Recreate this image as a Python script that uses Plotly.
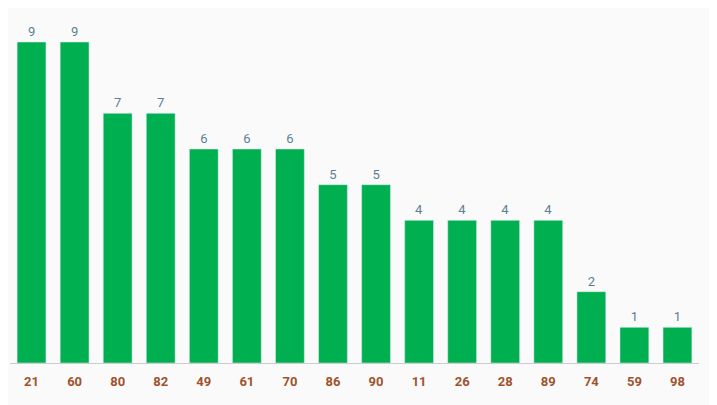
import plotly.graph_objects as go

categories = ["21","60","80","82","49","61","70","86","90","11","26","28","89","74","59","98"]
values = [9,9,7,7,6,6,6,5,5,4,4,4,4,2,1,1]

fig = go.Figure(go.Bar(
    x=categories, y=values, marker_color="#00b050",
    text=values, textposition="outside", cliponaxis=False,
    textfont=dict(color="#5b7f95", size=13, family="Roboto"),
))
fig.update_layout(
    width=717, height=405, margin=dict(l=2, r=26, t=34, b=50),
    paper_bgcolor="#fafafa", plot_bgcolor="#fafafa", bargap=0.33,
    showlegend=False,
)
fig.update_xaxes(type="category", showline=True, linecolor="#cccccc", linewidth=1,
                 tickfont=dict(color="#a0522d", size=13, family="Roboto", weight="bold"),
                 ticks="outside", ticklen=6, tickcolor="rgba(0,0,0,0)", showgrid=False)
fig.update_yaxes(range=[0, 9], visible=False, showgrid=False)
fig.write_html("out.html")
